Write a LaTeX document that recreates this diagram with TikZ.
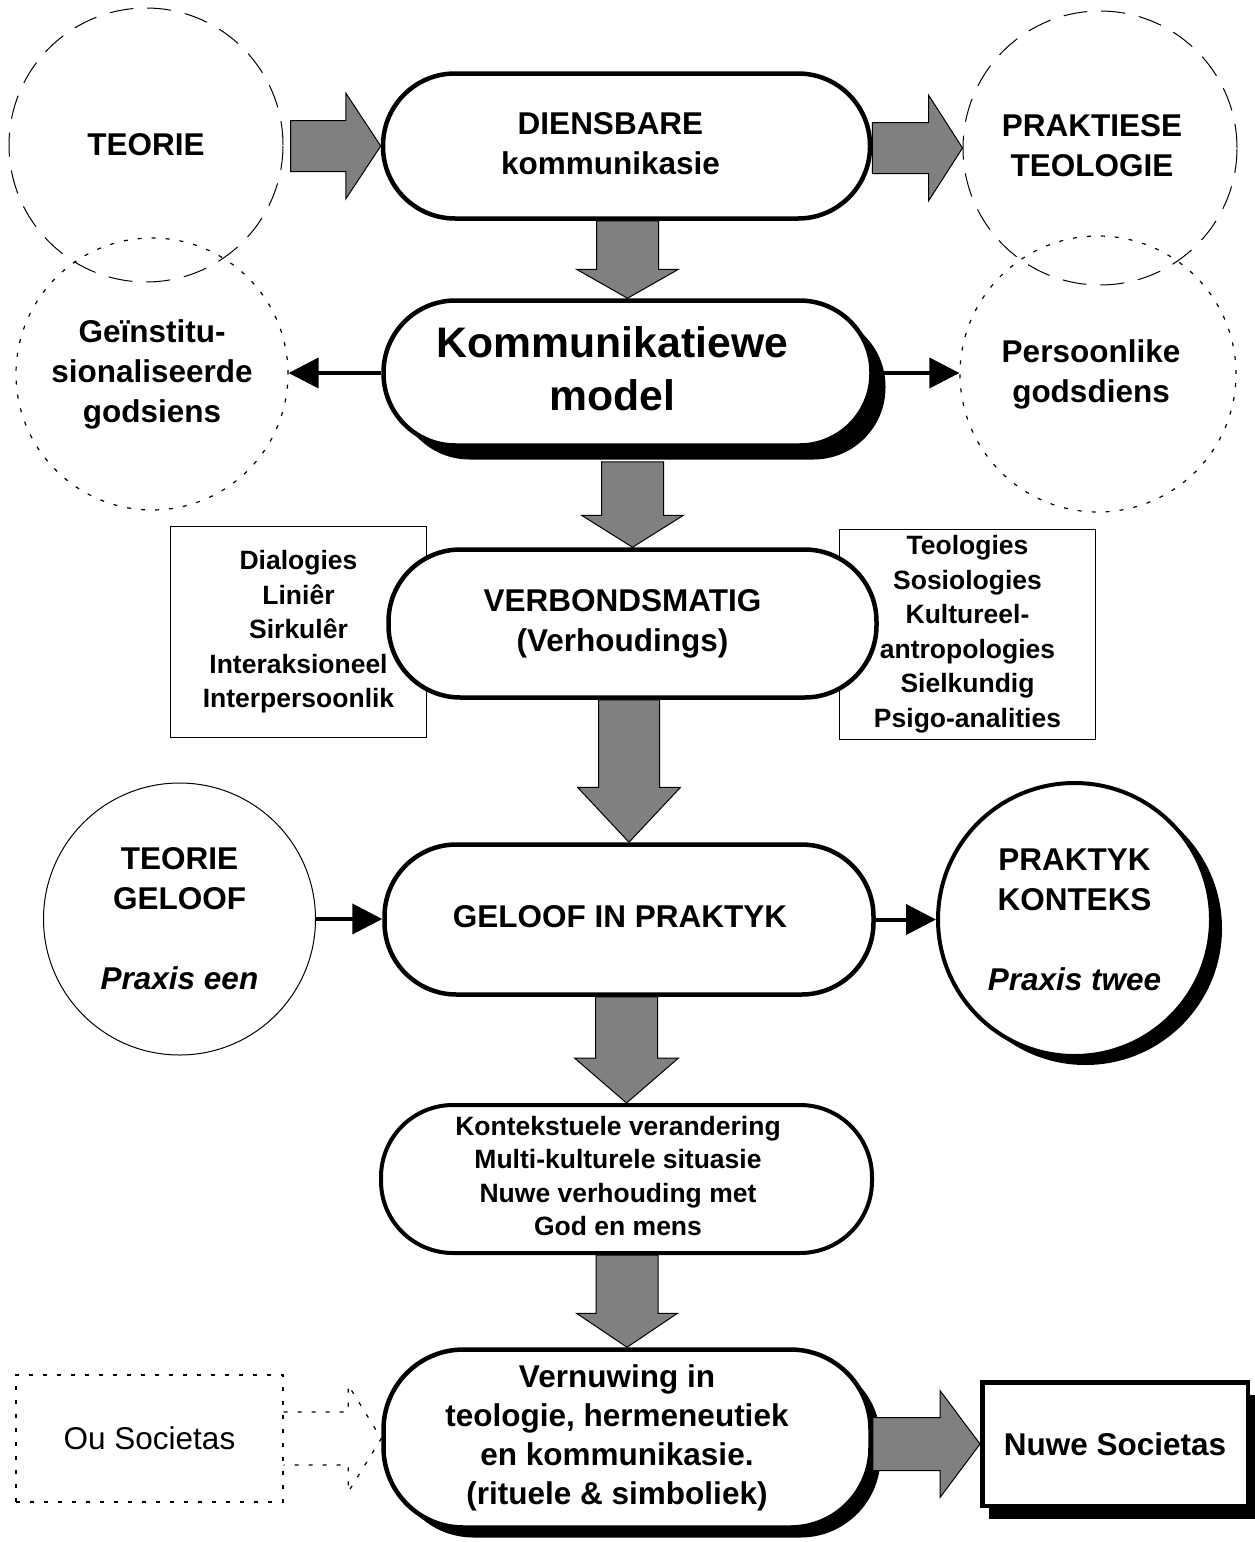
\documentclass[tikz,border=0pt]{standalone}
\usepackage{fontspec}
\setmainfont{Liberation Sans}
\usetikzlibrary{arrows.meta,shadows,calc}

\definecolor{blockgrey}{RGB}{128,128,128}

\tikzset{
  fnorm/.style={font=\fontsize{31.5}{40}\selectfont\bfseries},
  fsmall/.style={font=\fontsize{26.5}{34.5}\selectfont\bfseries},
  fbig/.style={font=\fontsize{42.7}{53}\selectfont\bfseries},
  stadium/.style={draw, line width=4.5pt, rounded corners=72pt, fill=white, align=center, inner sep=0pt},
  listbox/.style={draw, line width=1pt, fill=white, align=center, fsmall, inner sep=0pt},
  dashcircle/.style={circle, draw, line width=1pt, dash pattern=on 24pt off 14pt, align=center, fnorm, inner sep=0pt},
  dotcircle/.style={circle, draw, line width=1.2pt, dash pattern=on 4pt off 10pt, align=center, fnorm, inner sep=0pt},
  blockarrow/.style={draw, line width=1pt, fill=blockgrey, line join=miter},
  linkarrow/.style={line width=4pt, -{Triangle[length=30pt,width=30pt]}},
  dotline/.style={line width=1.2pt, dash pattern=on 4pt off 10pt}
}

% text block moved to the left by half of #1
\newcommand{\lefttext}[2]{\hspace*{-#1}\begin{tabular}{@{}c@{}}#2\end{tabular}}

% grey block arrow pointing down, from #1 to #2
\newcommand{\vblockarrow}[5]{%
  \draw[blockarrow] let \p1=(#1), \p2=(#2) in
    (\x2-#3,\y1) -- (\x2-#3,\y2+#5) -- (\x2-#4,\y2+#5) -- (\x2,\y2)
    -- (\x2+#4,\y2+#5) -- (\x2+#3,\y2+#5) -- (\x2+#3,\y1) -- cycle;}
% grey block arrow pointing right, from #1 to #2
\newcommand{\hblockarrow}[5]{%
  \draw[blockarrow] let \p1=(#1), \p2=(#2) in
    (\x1,\y2+#3) -- (\x2-#5,\y2+#3) -- (\x2-#5,\y2+#4) -- (\x2,\y2)
    -- (\x2-#5,\y2-#4) -- (\x2-#5,\y2-#3) -- (\x1,\y2-#3) -- cycle;}

\begin{document}
\begin{tikzpicture}[x=1pt,y=-1pt]
\useasboundingbox (0,0) rectangle (1255,1542);

% Drawing circles of the upper rows
\node[dashcircle, minimum size=274pt] (teorie) at (146,145) {TEORIE};
\node[dashcircle, minimum size=274pt] (prakt) at (1100,148) {\lefttext{16pt}{PRAKTIESE\\TEOLOGIE}};
\node[dotcircle, minimum size=272pt] (geinst) at (152,374) {Geïnstitu-\\sionaliseerde\\godsiens};
\node[dotcircle, minimum size=276pt] (persoon) at (1098,374) {\lefttext{14pt}{Persoonlike\\godsdiens}};

% Drawing list boxes
\node[listbox, minimum width=256pt, minimum height=211pt] (vorme) at (298.5,632)
  {Dialogies\\Liniêr\\Sirkulêr\\Interaksioneel\\Interpersoonlik};
\node[listbox, minimum width=256pt, minimum height=210pt] (velde) at (967.5,634)
  {Teologies\\Sosiologies\\Kultureel-\\antropologies\\Sielkundig\\Psigo-analities};

% Drawing main column
\node[stadium, fnorm, minimum width=487pt, minimum height=145pt] (dien) at (626.5,146)
  {\lefttext{32pt}{DIENSBARE\\kommunikasie}};
\node[stadium, fbig, minimum width=488pt, minimum height=145pt,
  drop shadow={shadow xshift=14pt, shadow yshift=-14pt, fill=black, opacity=1}] (komm) at (627.5,373)
  {\lefttext{30pt}{Kommunikatiewe\\model}};
\node[stadium, fnorm, minimum width=488pt, minimum height=148pt] (verb) at (632.5,623.5)
  {\lefttext{20pt}{VERBONDSMATIG\\(Verhoudings)}};
\node[stadium, fnorm, minimum width=489pt, minimum height=150pt] (gip) at (629,919.5)
  {\lefttext{18pt}{GELOOF IN PRAKTYK}};
\node[stadium, font=\fontsize{26.5}{33.5}\selectfont\bfseries, line width=4pt,
  minimum width=491pt, minimum height=148pt] (kont) at (626.5,1179)
  {\lefttext{17pt}{Kontekstuele verandering\\Multi-kulturele situasie\\Nuwe verhouding met\\God en mens}};
\node[stadium, font=\fontsize{31.5}{39}\selectfont\bfseries, rounded corners=80pt,
  minimum width=487pt, minimum height=178pt,
  drop shadow={shadow xshift=10pt, shadow yshift=-10pt, fill=black, opacity=1}] (vern) at (627,1438.5)
  {\lefttext{20pt}{Vernuwing in\\teologie, hermeneutiek\\en kommunikasie.\\(rituele \& simboliek)}};

% Drawing circles of the fourth row
\node[circle, draw, line width=1pt, fill=white, minimum size=272pt, fnorm, align=center, inner sep=0pt]
  (teogeloof) at (179.5,919) {TEORIE\\GELOOF\\[40pt]\textit{Praxis een}};
\node[circle, draw, line width=4pt, fill=white, minimum size=273pt, fnorm, align=center, inner sep=0pt,
  drop shadow={shadow xshift=11pt, shadow yshift=-9pt, fill=black, opacity=1}]
  (praktyk) at (1074.5,919.5) {PRAKTYK\\KONTEKS\\[40pt]\textit{Praxis twee}};

% Drawing boxes of the last row
\node[draw, dotline, minimum width=267pt, minimum height=127pt, inner sep=0pt,
  font=\fontsize{31.5}{40}\selectfont] (ou) at (149.5,1438.5) {Ou Societas};
\node[draw, line width=4.5pt, fill=white, fnorm, minimum width=265.5pt, minimum height=123.5pt, inner sep=0pt,
  drop shadow={shadow xshift=7pt, shadow yshift=-13pt, fill=black, opacity=1}] (nuwe) at (1115,1444)
  {Nuwe Societas};

% Drawing grey block arrows
\hblockarrow{[xshift=7pt]teorie.east}{dien.west}{25.5pt}{53pt}{35pt}
\hblockarrow{dien.east}{prakt.west}{25.5pt}{53pt}{34pt}
\vblockarrow{dien.south}{komm.north}{31pt}{51pt}{29pt}
\vblockarrow{[yshift=-14pt]komm.south}{verb.north}{31pt}{51pt}{32pt}
\vblockarrow{verb.south}{gip.north}{30.5pt}{51.5pt}{55pt}
\vblockarrow{gip.south}{kont.north}{31pt}{52pt}{45pt}
\vblockarrow{kont.south}{vern.north}{31pt}{50.5pt}{34pt}
\hblockarrow{vern.east}{nuwe.west}{26.5pt}{53.5pt}{40pt}

% Drawing dotted block arrow
\draw[dotline] let \p1=(ou.east), \p2=(vern.west) in
  (\x1,\y2+26.5pt) -- (\x2-33pt,\y2+26.5pt) -- (\x2-33pt,\y2+53.5pt) -- (\x2,\y2)
  -- (\x2-33pt,\y2-53.5pt) -- (\x2-33pt,\y2-26.5pt) -- (\x1,\y2-26.5pt);

% Drawing black arrows
\draw[linkarrow] (komm.west) -- (komm.west -| geinst.east);
\draw[linkarrow] (komm.east) -- (komm.east -| persoon.west);
\draw[linkarrow] (teogeloof.east) -- (teogeloof.east -| gip.west);
\draw[linkarrow] (gip.east) -- (gip.east -| praktyk.west);
\end{tikzpicture}
\end{document}
